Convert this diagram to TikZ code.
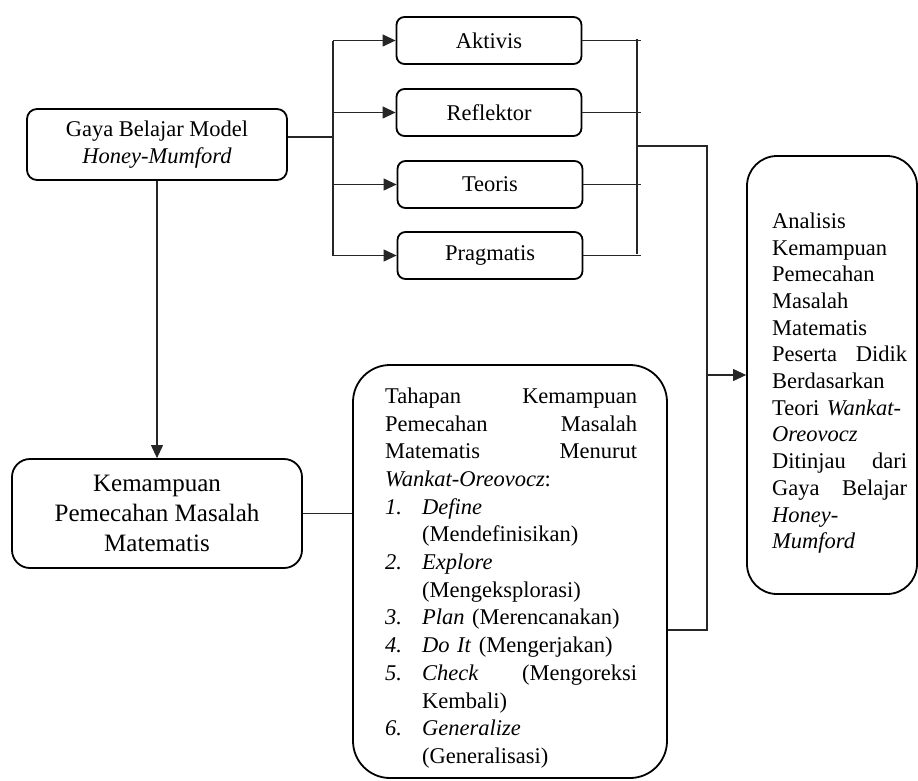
\documentclass[tikz,border=0pt]{standalone}
\usepackage{fontspec}
\setmainfont{Liberation Serif}
\usetikzlibrary{arrows.meta}
\begin{document}
\begin{tikzpicture}[x=1pt,y=-1pt,
  conn/.style={draw=black!85, line width=1.1pt},
  arr/.style={conn, -{Triangle[length=13pt,width=12pt]}},
  boxline/.style={draw=black, line width=1.8pt, inner sep=0pt},
  smallbox/.style={boxline, rounded corners=8pt, minimum width=185pt, minimum height=47pt,
    font=\fontsize{22.5}{27}\selectfont},
  txt/.style={inner sep=0pt, align=left},
]
\useasboundingbox (0,0) rectangle (918,780);

% left boxes
\node[boxline, rounded corners=10pt, minimum width=260pt, minimum height=71pt,
  align=center, font=\fontsize{22.5}{27}\selectfont] (gaya) at (157,144.5)
  {Gaya Belajar Model\\\textit{Honey-Mumford}};
\node[boxline, rounded corners=18pt, minimum width=290pt, minimum height=109pt,
  align=center, font=\fontsize{25}{30}\selectfont] (kem) at (157,513.5)
  {Kemampuan\\Pemecahan Masalah\\Matematis};

% style boxes
\node[smallbox] (akt) at (489,40.5) {Aktivis};
\node[smallbox] (ref) at (489,112.5) {Reflektor};
\node[smallbox] (teo) at (490,184.5) {Teoris};
\node[smallbox] (prag) at (490,255.5) {Pragmatis};

% big boxes
\node[boxline, rounded corners=37pt, minimum width=314pt, minimum height=413pt] (wankat) at (510,571.5) {};
\node[txt, text width=252pt, anchor=north west, font=\fontsize{22.5}{27.7}\selectfont] (wankattxt) at (385,387.5)
{Tahapan\hfill Kemampuan\\
Pemecahan\hfill Masalah\\
Matematis\hfill Menurut\\
\textit{Wankat-Oreovocz}:\\
\makebox[37pt][l]{\textit{1.}}\textit{Define}\\
\hspace*{37pt}(Mendefinisikan)\\
\makebox[37pt][l]{\textit{2.}}\textit{Explore}\\
\hspace*{37pt}(Mengeksplorasi)\\
\makebox[37pt][l]{\textit{3.}}\textit{Plan} (Merencanakan)\\
\makebox[37pt][l]{\textit{4.}}\textit{Do It} (Mengerjakan)\\
\makebox[37pt][l]{\textit{5.}}\textit{Check}\hfill(Mengoreksi\\
\hspace*{37pt}Kembali)\\
\makebox[37pt][l]{\textit{6.}}\textit{Generalize}\\
\hspace*{37pt}(Generalisasi)};

\node[boxline, rounded corners=30pt, minimum width=170pt, minimum height=438pt] (analisis) at (832,375) {};
\node[txt, text width=135pt, anchor=north west, font=\fontsize{22.5}{26.7}\selectfont] (analisistxt) at (772,212.5)
{Analisis\\
Kemampuan\\
Pemecahan\\
Masalah\\
Matematis\\
Peserta\hfill Didik\\
Berdasarkan\\
Teori \textit{Wankat-}\\
\textit{Oreovocz}\\
Ditinjau\hfill dari\\
Gaya\hfill Belajar\\
\textit{Honey-}\\
\textit{Mumford}};

% connectors
\coordinate (lb) at (333,137);
\draw[conn] (gaya.east |- lb) -- (lb);
\draw[conn] (lb |- akt.west) -- (lb |- prag.west);
\foreach \n in {akt,ref,teo,prag} \draw[arr] (lb |- \n.west) -- (\n.west);

\coordinate (rb) at (637,146);
\draw[conn] ([yshift=1.5pt]rb |- akt.east) -- ([yshift=2pt]rb |- prag.east);
\foreach \n in {akt,ref,teo,prag} \draw[conn] (\n.east) -- ([xshift=4pt]rb |- \n.east);

\coordinate (rv) at (707,146);
\coordinate (wj) at (707,630);
\draw[conn] (rb) -- (rv) -- (wj) -- (wankat.east |- wj);
\draw[arr] (rv |- analisis.west) -- (analisis.west);

\draw[arr] (gaya.south) -- (kem.north);
\draw[conn] (kem.east) -- (kem.east -| wankat.west);
\end{tikzpicture}
\end{document}
